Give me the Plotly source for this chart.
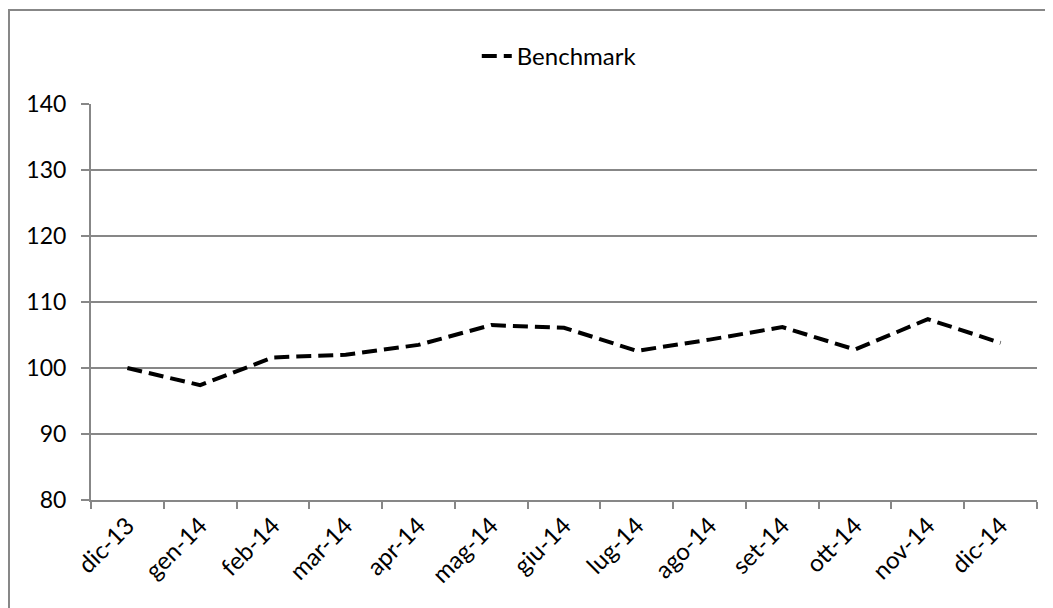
import plotly.graph_objects as go

categories = ["dic-13", "gen-14", "feb-14", "mar-14", "apr-14", "mag-14", "giu-14",
              "lug-14", "ago-14", "set-14", "ott-14", "nov-14", "dic-14"]
benchmark = [100.0, 97.4, 101.6, 102.0, 103.5, 106.5, 106.1, 102.6, 104.3, 106.2, 102.8, 107.4, 103.8]
y_ticks = [80, 90, 100, 110, 120, 130, 140]

FONT = "Lato"
GRAY = "#878787"

fig = go.Figure()
fig.add_trace(go.Scatter(
    x=categories, y=benchmark, mode="lines", name="Benchmark",
    line=dict(color="black", width=4, dash="15px,7px"),
))

fig.update_layout(
    width=1045, height=600,
    margin=dict(l=83, r=16, t=96, b=108),
    paper_bgcolor="white", plot_bgcolor="white",
    font=dict(family=FONT, size=23, color="black"),
    showlegend=True,
    legend=dict(orientation="h", x=0.495, xanchor="center", y=1.12, yanchor="middle",
                font=dict(family=FONT, size=24, color="black"), bgcolor="rgba(0,0,0,0)"),
    xaxis=dict(
        type="category", range=[-0.5, 12.5], tickangle=-45,
        showgrid=False, showline=True, linecolor=GRAY, linewidth=2,
        ticks="outside", ticklen=7, tickcolor=GRAY, tickwidth=2, tickson="boundaries",
        tickfont=dict(family=FONT, size=24, color="black"),
    ),
    yaxis=dict(
        range=[80, 140], tickvals=y_ticks, showgrid=True, gridcolor=GRAY, gridwidth=1.5,
        zeroline=False, showline=True, linecolor=GRAY, linewidth=2,
        ticks="outside", ticklen=8, tickcolor=GRAY, tickwidth=2,
        ticklabelstandoff=10,
        tickfont=dict(family=FONT, size=23, color="black"),
    ),
    shapes=[dict(type="rect", xref="paper", yref="paper",
                 x0=-0.0867, x1=1.2, y0=-0.6, y1=1.2374,
                 line=dict(color=GRAY, width=2), fillcolor="rgba(0,0,0,0)", layer="below")],
)

fig.write_html("out.html")
